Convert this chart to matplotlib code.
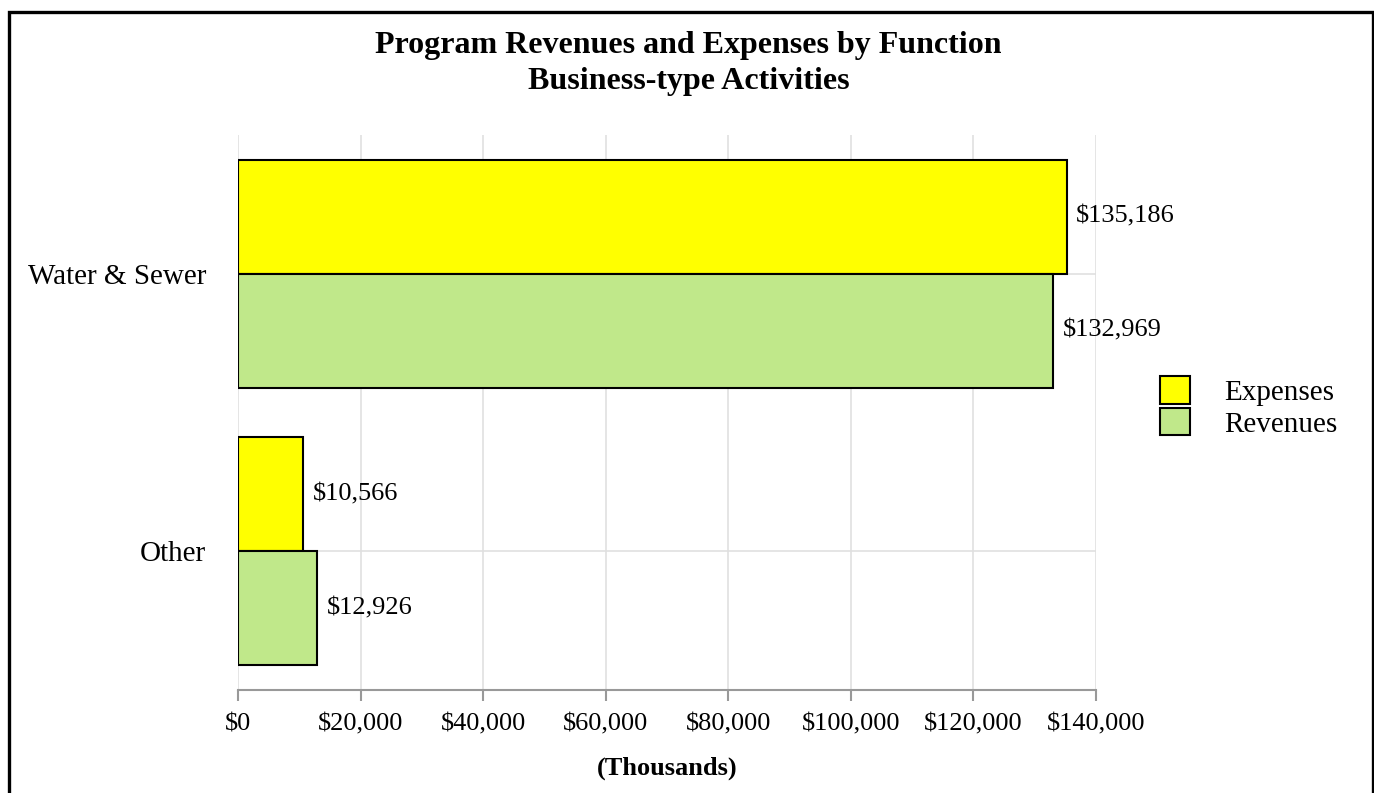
import matplotlib.pyplot as plt
import numpy as np
from matplotlib.patches import Rectangle
from matplotlib.ticker import FuncFormatter

# Program revenues and expenses, business-type activities (thousands)
categories = ["Other", "Water & Sewer"]
expenses = [10566, 135186]
revenues = [12926, 132969]
x_ticks = [0, 20000, 40000, 60000, 80000, 100000, 120000, 140000]

plt.rcParams['font.family'] = ['Liberation Serif', 'DejaVu Serif']

fig = plt.figure(figsize=(13.74, 7.93), dpi=100)
ax = fig.add_axes([0.1732, 0.1299, 0.7977 - 0.1732, 0.8298 - 0.1299])

y = np.arange(len(categories))
h = 0.41
exp_bars = ax.barh(y + h / 2, expenses, height=h, color='#ffff00',
                   edgecolor='black', linewidth=1.5, label='Expenses', zorder=3)
rev_bars = ax.barh(y - h / 2, revenues, height=h, color='#c0e88a',
                   edgecolor='black', linewidth=1.5, label='Revenues', zorder=3)

for bars, vals in ((exp_bars, expenses), (rev_bars, revenues)):
    for b, v in zip(bars, vals):
        ax.annotate(f"${v:,}", (v, b.get_y() + b.get_height() / 2),
                    xytext=(7, 0), textcoords='offset points',
                    va='center', ha='left', fontsize=19)

ax.set_xlim(0, 140000)
ax.set_ylim(-0.5, 1.5)
ax.set_xticks(x_ticks)
ax.xaxis.set_major_formatter(FuncFormatter(lambda v, p: f"${int(v):,}"))
ax.set_yticks(y)
ax.set_yticklabels(categories)
ax.tick_params(axis='y', length=0, pad=23, labelsize=21)
ax.tick_params(axis='x', length=8, width=1.5, color='#999999', labelsize=19, pad=9)

ax.grid(True, color='#e0e0e0', linewidth=1.2, zorder=0)
for side in ('top', 'right', 'left'):
    ax.spines[side].set_visible(False)
ax.spines['bottom'].set_color('#999999')
ax.spines['bottom'].set_linewidth(1.5)
ax.spines['bottom'].set_zorder(4)

ax.set_xlabel("(Thousands)", fontsize=19, fontweight='bold', labelpad=15)

fig.text(0.501, 1 - 45 / 793, "Program Revenues and Expenses by Function",
         ha='center', va='center', fontsize=23, fontweight='bold')
fig.text(0.501, 1 - 81 / 793, "Business-type Activities",
         ha='center', va='center', fontsize=23, fontweight='bold')

fig.legend(handles=[exp_bars, rev_bars], loc='center left',
           bbox_to_anchor=(1160 / 1374, 1 - 407 / 793), frameon=False, fontsize=21,
           borderpad=0, borderaxespad=0,
           handlelength=1.03, handleheight=1.07, handletextpad=1.17,
           labelspacing=0.07)

# Outer frame around the chart
fig.patches.append(Rectangle((8.5 / 1374, -0.05), (1372.5 - 8.5) / 1374, 1.05 - 11.5 / 793,
                             transform=fig.transFigure, fill=False,
                             edgecolor='black', linewidth=2.4))

fig.savefig("out.png", dpi=100)
